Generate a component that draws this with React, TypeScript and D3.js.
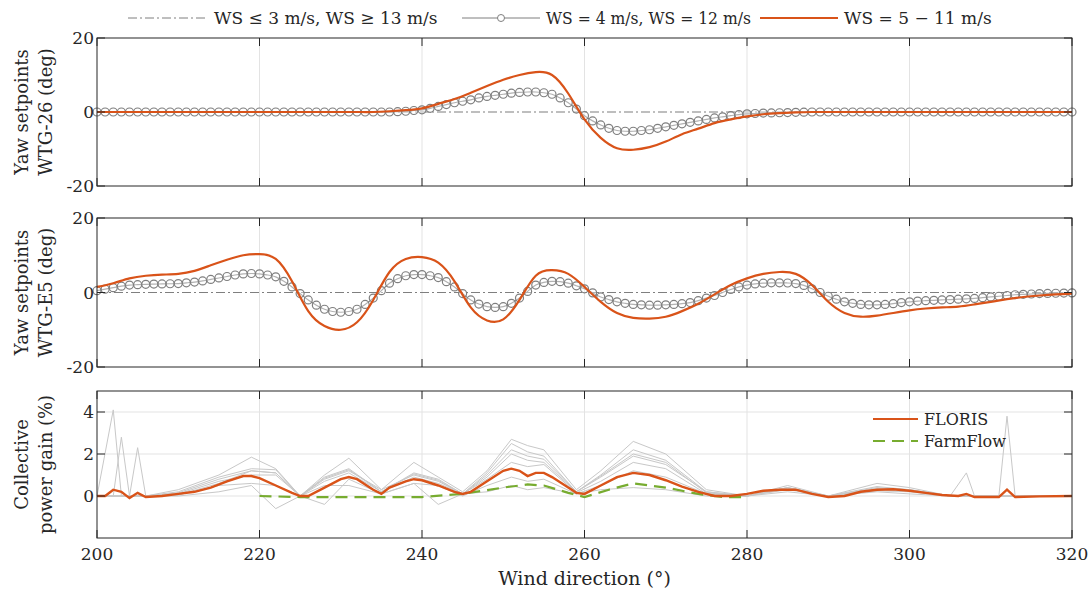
import React from "react";
import * as d3 from "d3";

const W = 1090, H = 595;
const xL = 97, xR = 1072;

// yaw setpoints: orange on a 2-degree grid, grey markers on a 1-degree grid
const dirs2 = d3.range(200, 321, 2);
const dirs1 = d3.range(200, 321, 1);
const yaw26Low = [0,0,0,0,0,0,0,0,0,0,0,0,0,0,0,0,0,0,0,0,0,0,0,0,0,0,0,0,0,0,0,0,0,0,0,0,0,
  0.1,0.2,0.4,0.6,1.0,1.5,2.0,2.5,2.9,3.3,3.8,4.2,4.5,4.8,5.1,5.3,5.4,5.4,5.2,4.8,3.8,2.5,0.8,-1,-2.4,-3.5,-4.4,-5,-5.2,-5.2,-5.0,-4.8,-4.4,-4,-3.6,-3.2,-2.8,-2.4,-2.0,-1.6,-1.3,-1,-0.7,-0.5,-0.4,-0.3,-0.25,-0.2,-0.15,-0.1,-0.05,
  0,0,0,0,0,0,0,0,0,0,0,0,0,0,0,0,0,0,0,0,0,0,0,0,0,0,0,0,0,0,0,0,0];
const yaw26Mid = [0,0,0,0,0,0,0,0,0,0,0,0,0,0,0,0,0,0,0.2,0.5,1,2.2,3.5,5.2,7,8.7,10,10.8,10,5,-2,-7,-9.8,-10.2,-9.5,-8,-6,-4.5,-3,-2,-1.2,-0.6,-0.3,-0.1,0,0,0,0,0,0,0,0,0,0,0,0,0,0,0,0,0];
const yawE5Low = [0.5,0.9,1.3,1.7,2,2.1,2.2,2.25,2.3,2.35,2.4,2.6,2.8,3.1,3.5,3.9,4.3,4.7,5,5.1,5,4.7,4.2,3,1.5,-0.3,-2,-3.4,-4.5,-5.1,-5.3,-5.1,-4.5,-3.2,-1.5,0.5,2.5,3.7,4.5,4.8,4.8,4.5,4,2.9,1.5,-0.3,-2,-3.1,-3.8,-4,-3.8,-2.9,-1.5,0.3,2,2.7,3,2.9,2.5,1.8,1,-0.1,-1.2,-1.9,-2.5,-2.9,-3.2,-3.3,-3.4,-3.4,-3.3,-3.2,-3,-2.7,-2.2,-1.5,-0.8,0,0.8,1.5,2,2.3,2.5,2.6,2.6,2.55,2.4,1.9,1,0,-1,-1.8,-2.5,-2.9,-3.2,-3.3,-3.3,-3.2,-3,-2.7,-2.5,-2.3,-2.2,-2.1,-2,-1.9,-1.8,-1.7,-1.6,-1.4,-1.2,-1,-0.8,-0.6,-0.5,-0.4,-0.3,-0.25,-0.2,-0.15,-0.1];
const yawE5Mid = [1.5,2.5,3.8,4.5,4.8,5,5.8,7.3,8.8,10,10.3,9,3,-5,-9,-10,-8,-2,5.5,9,9.5,8,3,-4,-7.5,-7.2,-2,4.5,6,5,1.5,-2.5,-5.5,-6.8,-7,-6.5,-5,-3,-0.5,2,3.8,5,5.5,5,2,-2.5,-5.5,-6.5,-6.2,-5.5,-4.8,-4.3,-4,-3.8,-3.2,-2.5,-1.8,-1.2,-0.8,-0.5,-0.3];

// power gain
const florisDir = [200,201,202,203,204,205,206,208,210,212,214,216,218,219,220,222,224,225,226,228,230,231,232,234,235,236,238,239,240,242,244,245,246,248,250,251,252,253,254,255,256,258,259,260,262,264,266,268,270,272,274,276,278,280,282,284,286,288,290,292,294,296,298,300,302,304,306,307,308,310,311,312,313,316,320];
const florisGain = [0,0,0.3,0.2,-0.1,0.15,-0.05,0,0.1,0.2,0.4,0.7,0.95,0.95,0.85,0.5,0.15,0,0,0.4,0.8,0.9,0.8,0.3,0.1,0.4,0.7,0.8,0.75,0.5,0.2,0.1,0.2,0.7,1.2,1.3,1.2,0.95,1.1,1.1,0.9,0.4,0.15,0.1,0.5,0.9,1.1,1.0,0.75,0.45,0.2,0,0,0.1,0.25,0.3,0.3,0.1,-0.05,0,0.2,0.3,0.32,0.25,0.15,0.05,0,0.1,-0.05,-0.05,-0.05,0.3,-0.05,-0.02,0];
const farmDir = [220,225,230,235,240,245,250,253,255,258,260,263,266,270,274,277,280];
const farmGain = [0,-0.05,-0.05,-0.05,-0.05,0.1,0.4,0.55,0.5,0.15,-0.05,0.3,0.6,0.4,0.1,-0.05,-0.05];

const caseDir = [200,202,203,204,205,206,210,215,219,222,225,228,231,235,239,242,245,248,251,253,255,259,262,266,270,275,280,285,290,296,300,305,307,308,311,312,313,315,320];
const caseGains = [
  [0,4.1,0,0,0,0,0.3,1.0,1.85,1.3,0,1.0,1.8,0.3,1.6,0.9,0.2,1.2,2.7,2.4,2.2,0.3,1.2,2.6,2.0,0.3,0,0.5,0,0.6,0.4,0,0,0,0,3.8,0,0,0],
  [0,0,2.8,0,0,0,0.2,0.9,1.3,1.25,0,0.9,1.3,0.2,1.1,0.8,0.1,1.1,2.5,2.1,1.9,0.2,1.0,2.2,1.7,0.2,0,0.4,0,0.4,0.3,0,1.1,0,0,0,0,0,0],
  [0,0,0,0,2.3,0,0.15,0.8,1.2,1.1,0,0.8,1.2,0.3,1.0,0.7,0.1,0.9,2.0,1.7,1.6,0.2,0.9,1.9,1.5,0.2,0,0.4,0,0.35,0.3,0,0,0,0,0,0,0,0],
  [0,0,0,0,0,0,0.1,0.7,1.0,1.0,0,0.7,1.1,0.2,0.9,0.6,0.1,0.8,1.6,1.4,1.5,0.15,0.7,1.6,1.3,0.1,0,0.35,0,0.3,0.25,0,0,0,0,0,0,0,0],
  [0,0,0,0,0,0,0.05,0.5,0.6,0.5,0,0.5,0.5,0.1,0.6,0.5,0,0.5,0.9,0.7,0.8,0.1,0.5,1.2,0.9,0.1,0,0.3,0,0.25,0.2,0,0,0,0,0,0,0,0],
  [0,0,0,0,0,0,0,0.2,0.5,-0.6,0,-0.4,0.8,0.1,0.6,-0.4,0.1,0.2,0.5,0.3,0.4,0.1,0.3,0.4,0.3,0,0,0.2,0,0.2,0.1,0,0,0,0,0,0,0,0],
  [0,0,0,0,0,0,0.05,0.6,1.2,1.1,0,0.85,1.25,0.2,1.05,0.75,0.1,1.0,2.2,1.9,1.75,0.2,0.95,2.0,1.6,0.15,0,0.4,0,0.45,0.3,0,0,0,0,0,0,0,0],
];

const xTicks = [200, 220, 240, 260, 280, 300, 320];
const font = "DejaVu Serif, serif";
const orange = "#d95319";
const grayM = "#7f7f7f";

const x = d3.scaleLinear().domain([200, 320]).range([xL, xR]);

function Panel({ top, bottom, domain, ticks, ylabel, hgrid, children }) {
  const y = d3.scaleLinear().domain(domain).range([bottom, top]);
  return (
    <g>
      {xTicks.slice(1, -1).map(t => (
        <line key={t} x1={x(t)} x2={x(t)} y1={top} y2={bottom} stroke="#e3e3e3" />
      ))}
      {hgrid && ticks.map(t => (
        <line key={t} x1={xL} x2={xR} y1={y(t)} y2={y(t)} stroke="#e3e3e3" />
      ))}
      {children(y)}
      <rect x={xL} y={top} width={xR - xL} height={bottom - top} fill="none" stroke="#262626" strokeWidth={1} />
      {xTicks.map(t => (
        <g key={t}>
          <line x1={x(t)} x2={x(t)} y1={bottom} y2={bottom - 8} stroke="#262626" />
          <line x1={x(t)} x2={x(t)} y1={top} y2={top + 8} stroke="#262626" />
        </g>
      ))}
      {ticks.map(t => (
        <g key={t}>
          <line x1={xL} x2={xL + 8} y1={y(t)} y2={y(t)} stroke="#262626" />
          <line x1={xR} x2={xR - 8} y1={y(t)} y2={y(t)} stroke="#262626" />
          <text x={xL - 3} y={y(t) + 6} textAnchor="end" fontSize={17} fill="#262626">{t}</text>
        </g>
      ))}
      <text transform={`translate(${24},${(top + bottom) / 2}) rotate(-90)`} textAnchor="middle" fontSize={18} fill="#262626">
        <tspan x={0} dy={4}>{ylabel[0]}</tspan>
        <tspan x={0} dy={24}>{ylabel[1]}</tspan>
      </text>
    </g>
  );
}

function YawLines({ y, low, mid }) {
  const lineMid = d3.line<number>().x((_, i) => x(dirs2[i])).y(d => y(d)).curve(d3.curveNatural);
  const lineLow = d3.line<number>().x((_, i) => x(dirs1[i])).y(d => y(d)).curve(d3.curveNatural);
  return (
    <g>
      <line x1={xL} x2={xR} y1={y(0)} y2={y(0)} stroke={grayM} strokeWidth={1.2} strokeDasharray="9 3 2 3" />
      <path d={lineLow(low)} fill="none" stroke={grayM} strokeWidth={1.2} />
      {low.map((v, i) => (
        <circle key={i} cx={x(dirs1[i])} cy={y(v)} r={4} fill="white" fillOpacity={0.4} stroke={grayM} strokeWidth={1.2} />
      ))}
      <path d={lineMid(mid)} fill="none" stroke={orange} strokeWidth={2.2} />
    </g>
  );
}

export default function App() {
  const lineXY = (xs: number[], y) => d3.line<number>().x((_, i) => x(xs[i])).y(d => y(d));
  return (
    <svg width={W} height={H} fontFamily={font} style={{ position: "absolute", left: 0, top: 0 }}>
      <rect width={W} height={H} fill="white" />
      {/* legend */}
      <g fontSize={17} fill="#262626">
        <line x1={128} x2={208} y1={18} y2={18} stroke={grayM} strokeDasharray="9 3 2 3" />
        <text x={214} y={24}>WS ≤ 3 m/s, WS ≥ 13 m/s</text>
        <line x1={462} x2={540} y1={18} y2={18} stroke={grayM} />
        <circle cx={501} cy={18} r={3.5} fill="white" stroke={grayM} />
        <text x={546} y={24} textLength={205} lengthAdjust="spacingAndGlyphs">WS = 4 m/s, WS = 12 m/s</text>
        <line x1={760} x2={838} y1={18} y2={18} stroke={orange} strokeWidth={2.2} />
        <text x={844} y={24}>WS = 5 − 11 m/s</text>
      </g>
      <Panel top={38} bottom={186} domain={[-20, 20]} ticks={[-20, 0, 20]} ylabel={["Yaw setpoints", "WTG-26 (deg)"]}>
        {y => <YawLines y={y} low={yaw26Low} mid={yaw26Mid} />}
      </Panel>
      <Panel top={218} bottom={367} domain={[-20, 20]} ticks={[-20, 0, 20]} ylabel={["Yaw setpoints", "WTG-E5 (deg)"]}>
        {y => <YawLines y={y} low={yawE5Low} mid={yawE5Mid} />}
      </Panel>
      <Panel top={391} bottom={538} domain={[-2, 5]} ticks={[0, 2, 4]} hgrid ylabel={["Collective", "power gain (%)"]}>
        {y => (
          <g>
            {caseGains.map((s, i) => (
              <path key={i} d={lineXY(caseDir, y)(s)} fill="none" stroke="#c8c8c8" strokeWidth={1} />
            ))}
            <path d={lineXY(farmDir, y)(farmGain)} fill="none" stroke="#77ac30" strokeWidth={2.2} strokeDasharray="12 7" />
            <path d={lineXY(florisDir, y)(florisGain)} fill="none" stroke={orange} strokeWidth={2.4} />
            <line x1={873} x2={918} y1={419} y2={419} stroke={orange} strokeWidth={2.2} />
            <text x={924} y={425} fontSize={16} fill="#262626">FLORIS</text>
            <line x1={873} x2={918} y1={441} y2={441} stroke="#77ac30" strokeWidth={2.2} strokeDasharray="12 7" />
            <text x={924} y={447} fontSize={16} fill="#262626">FarmFlow</text>
          </g>
        )}
      </Panel>
      <g fontSize={17} fill="#262626">
        {xTicks.map(t => (
          <text key={t} x={x(t)} y={560} textAnchor="middle">{t}</text>
        ))}
        <text x={(xL + xR) / 2} y={585} textAnchor="middle" fontSize={19}>Wind direction (°)</text>
      </g>
    </svg>
  );
}
